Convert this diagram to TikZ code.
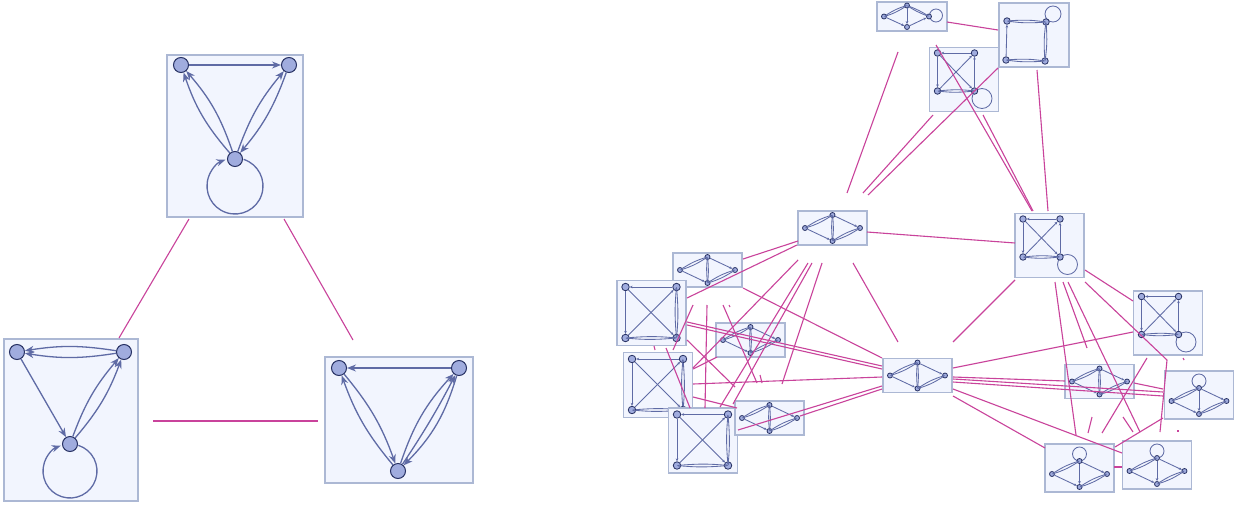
\documentclass[tikz,border=0pt]{standalone}
\usetikzlibrary{arrows.meta}
\definecolor{pinkc}{RGB}{201,67,155}
\definecolor{boxfill}{RGB}{242,245,254}
\definecolor{boxdraw}{RGB}{172,184,212}
\definecolor{nodefill}{RGB}{160,172,222}
\definecolor{nodedraw}{RGB}{40,50,100}
\definecolor{edgec}{RGB}{95,107,165}
\tikzset{
 gbox/.style={fill=boxfill,draw=boxdraw,line width=1.4pt},
 bignode/.style={circle,fill=nodefill,draw=nodedraw,line width=1pt,minimum size=15pt,inner sep=0pt},
 bigedge/.style={draw=edgec,line width=1.3pt,-{Stealth[length=9pt,width=7pt]}},
 bigloop/.style={draw=edgec,line width=1.3pt,-{Stealth[length=9pt,width=7pt]}},
 smnode/.style={circle,fill=nodefill,draw=nodedraw,line width=0.8pt,minimum size=#1,inner sep=0pt},
 smnode/.default=5pt,
 smedge/.style={draw=edgec,line width=0.85pt,-{Stealth[length=3pt,width=2.6pt]}},
 smloop/.style={draw=edgec,line width=0.85pt},
 link/.style={draw=pinkc,line width=1.1pt},
 diam/.pic={
  \path[gbox] (-34.5,-17) rectangle (34.5,17);
  \node[smnode=5pt] (-L) at (-27.5,0) {};
  \node[smnode=5pt] (-T) at (0,-13) {};
  \node[smnode=5pt] (-B) at (0,13) {};
  \node[smnode=5pt] (-R) at (27.5,0) {};
  \draw[smedge] (-L) to[bend left=8] (-T);
  \draw[smedge] (-T) to[bend left=8] (-L);
  \draw[smedge] (-L) -- (-B);
  \draw[smedge] (-T) to[bend left=6] (-B);
  \draw[smedge] (-B) to[bend left=6] (-T);
  \draw[smedge] (-T) -- (-R);
  \draw[smedge] (-B) to[bend left=8] (-R);
  \draw[smedge] (-R) to[bend left=8] (-B);
 },
 diamloop/.pic={
  \path[gbox] (-34.5,-24) rectangle (34.5,24);
  \draw[smloop] (0,-14) circle[radius=7];
  \node[smnode=5pt] (-L) at (-27.5,6) {};
  \node[smnode=5pt] (-T) at (0,-7) {};
  \node[smnode=5pt] (-B) at (0,19) {};
  \node[smnode=5pt] (-R) at (27.5,6) {};
  \draw[smedge] (-L) to[bend left=8] (-T);
  \draw[smedge] (-T) to[bend left=8] (-L);
  \draw[smedge] (-L) -- (-B);
  \draw[smedge] (-T) -- (-B);
  \draw[smedge] (-T) -- (-R);
  \draw[smedge] (-B) to[bend left=8] (-R);
  \draw[smedge] (-R) to[bend left=8] (-B);
 },
 sqx/.pic={
  \path[gbox] (-34.5,-32) rectangle (34.5,32);
  \draw[smloop] (18,19) circle[radius=10];
  \node[smnode=6.5pt] (-TL) at (-26.5,-26.5) {};
  \node[smnode=6.5pt] (-TR) at (10.5,-26.5) {};
  \node[smnode=6.5pt] (-BL) at (-26.5,11.5) {};
  \node[smnode=6.5pt] (-BR) at (10.5,11.5) {};
  \draw[smedge] (-TR) -- (-TL);
  \draw[smedge] (-TL) -- (-BL);
  \draw[smedge] (-BR) -- (-TR);
  \draw[smedge] (-BL) to[bend left=6] (-BR);
  \draw[smedge] (-BR) to[bend left=6] (-BL);
  \draw[smedge] (-TL) -- (-BR);
  \draw[smedge] (-BL) -- (-TR);
 },
 sqxn/.pic={
  \path[gbox] (-34.5,-32.5) rectangle (34.5,32.5);
  \node[smnode=7.5pt] (-TL) at (-26,-26) {};
  \node[smnode=7.5pt] (-TR) at (25,-26) {};
  \node[smnode=7.5pt] (-BL) at (-26,25) {};
  \node[smnode=7.5pt] (-BR) at (25,25) {};
  \draw[smedge] (-TR) -- (-TL);
  \draw[smedge] (-TL) -- (-BL);
  \draw[smedge] (-TR) to[bend left=5] (-BR);
  \draw[smedge] (-BR) to[bend left=5] (-TR);
  \draw[smedge] (-BL) to[bend left=5] (-BR);
  \draw[smedge] (-BR) to[bend left=5] (-BL);
  \draw[smedge] (-TL) -- (-BR);
  \draw[smedge] (-BL) -- (-TR);
 },
 sqloop/.pic={
  \path[gbox] (-35,-32) rectangle (35,32);
  \draw[smloop] (19,-21) circle[radius=8];
  \node[smnode=6.5pt] (-TL) at (-27,-14) {};
  \node[smnode=6.5pt] (-TR) at (12,-13) {};
  \node[smnode=6.5pt] (-BL) at (-28,25) {};
  \node[smnode=6.5pt] (-BR) at (11,26) {};
  \draw[smedge] (-TL) to[bend left=6] (-TR);
  \draw[smedge] (-TR) to[bend left=6] (-TL);
  \draw[smedge] (-BL) -- (-TL);
  \draw[smedge] (-TR) to[bend left=6] (-BR);
  \draw[smedge] (-BR) to[bend left=6] (-TR);
  \draw[smedge] (-BL) to[bend left=6] (-BR);
  \draw[smedge] (-BR) to[bend left=6] (-BL);
 },
 diamr/.pic={
  \path[gbox] (-35,-14.5) rectangle (35,14.5);
  \draw[smloop] (24,-1) circle[radius=6.5];
  \node[smnode=5pt] (-L) at (-28,0) {};
  \node[smnode=5pt] (-T) at (-5,-11) {};
  \node[smnode=5pt] (-B) at (-5,10.5) {};
  \node[smnode=5pt] (-R) at (17,0) {};
  \draw[smedge] (-L) to[bend left=8] (-T);
  \draw[smedge] (-T) to[bend left=8] (-L);
  \draw[smedge] (-L) -- (-B);
  \draw[smedge] (-T) -- (-B);
  \draw[smedge] (-T) to[bend left=6] (-R);
  \draw[smedge] (-R) to[bend left=6] (-T);
  \draw[smedge] (-B) -- (-R);
 },
}
\begin{document}
\begin{tikzpicture}[x=1pt,y=-1pt]
\useasboundingbox (0,0) rectangle (1236,506);
\fill[white] (0,0) rectangle (1236,506);

% ---------- left: three big boxes ----------
\path[gbox,line width=1.5pt] (167,55) rectangle (303,217);
\draw[bigloop] (235,186) ++(-72:28) arc[start angle=-72, end angle=250, radius=28];
\node[bignode] (A) at (181,65) {};
\node[bignode] (B) at (289,65) {};
\node[bignode] (C) at (235,159) {};
\draw[bigedge] (A) -- (B);
\draw[bigedge] (C) to[bend left=11] (A);
\draw[bigedge] (C) to[bend right=11] (A);
\draw[bigedge] (C) to[bend left=10] (B);
\draw[bigedge] (B) to[bend left=10] (C);

\path[gbox,line width=1.5pt] (4,339) rectangle (138,501);
\draw[bigloop] (70,471) ++(-72:27) arc[start angle=-72, end angle=250, radius=27];
\node[bignode] (D) at (17,352) {};
\node[bignode] (E) at (124,352) {};
\node[bignode] (F) at (70,444) {};
\draw[bigedge] (E) to[bend left=9] (D);
\draw[bigedge] (E) to[bend right=9] (D);
\draw[bigedge] (D) -- (F);
\draw[bigedge] (F) to[bend left=10] (E);
\draw[bigedge] (F) to[bend right=10] (E);

\path[gbox,line width=1.5pt] (325,357) rectangle (473,483);
\node[bignode] (G) at (339,368) {};
\node[bignode] (H) at (459,368) {};
\node[bignode] (I) at (398,471) {};
\draw[bigedge] (H) -- (G);
\draw[bigedge] (I) to[bend left=10] (G);
\draw[bigedge] (G) to[bend left=10] (I);
\draw[bigedge] (I) to[bend left=12] (H);
\draw[bigedge] (I) to[bend right=3] (H);
\draw[bigedge] (H) to[bend left=14] (I);

\draw[link] (189,219) -- (119,338);
\draw[link] (284,219) -- (353,340);
\draw[link] (153,421) -- (318,421);

% ---------- right: small boxes ----------
\pic (r1) at (912,16.5) {diamr};
\pic (r2) at (1034,35) {sqloop};
\pic (r3) at (964,79.5) {sqx};
\pic (r4) at (832.5,228) {diam};
\pic (r5) at (1049.5,245.5) {sqx};
\pic (r6) at (707.5,270) {diam};
\pic (r7) at (651.5,313) {sqxn};
\pic (r8) at (750.5,340) {diam};
\pic (r9) at (658,385) {sqxn};
\pic (r10) at (703,440.5) {sqxn};
\pic (r11) at (769.5,418) {diam};
\pic (r12) at (917.5,375.5) {diam};
\pic (r13) at (1099.5,381.5) {diam};
\pic (r14) at (1199,395) {diamloop};
\pic (r15) at (1079.5,468) {diamloop};
\pic (r16) at (1157,465) {diamloop};
\pic (r17) at (1168,323) {sqx};

% ---------- right: links ----------
\draw[link] (947,22) -- (998,30);
\draw[link] (898,52) -- (847,193);
\draw[link] (936,45) -- (1032,211);
\draw[link] (983,115) -- (1033,211);
\draw[link] (933,115) -- (863,193);
\draw[link] (998,68) -- (868,195);
\draw[link] (1037,70) -- (1048,211);
\draw[link] (867,232) -- (1015,243);
\draw[link] (798,241) -- (743,259);
\draw[link] (797,245) -- (687,298);
\draw[link] (798,260) -- (693,368);
\draw[link] (808,263) -- (720,407);
\draw[link] (812,263) -- (733,404);
\draw[link] (822,263) -- (782,384);
\draw[link] (853,263) -- (898,342);
\draw[link] (743,288) -- (882,358);
\draw[link] (687,322) -- (882,366);
\draw[link] (687,325) -- (882,369);
\draw[link] (693,384) -- (882,377);
\draw[link] (738,430) -- (882,386);
\draw[link] (800,416) -- (882,389);
\draw[link] (693,305) -- (673,350);
\draw[link] (707,305) -- (705,408);
\draw[link] (723,305) -- (757,383);
\draw[link] (666,348) -- (690,408);
\draw[link] (687,340) -- (735,387);
\draw[link] (693,369) -- (717,357);
\draw[link] (693,397) -- (737,408);
\draw[link] (1015,280) -- (953,342);
\draw[link] (1085,270) -- (1133,301);
\draw[link] (1055,282) -- (1076,435);
\draw[link] (1063,282) -- (1087,348);
\draw[link] (1068,282) -- (1140,432);
\draw[link] (1085,282) -- (1167,360);
\draw[link] (953,368) -- (1133,332);
\draw[link] (953,377) -- (1065,381);
\draw[link] (953,379) -- (1163,392);
\draw[link] (953,382) -- (1163,396);
\draw[link] (953,389) -- (1122,453);
\draw[link] (953,396) -- (1045,448);
\draw[link] (1115,447) -- (1163,418);
\draw[link] (1147,358) -- (1102,433);
\draw[link] (1167,360) -- (1160,432);
\draw[link] (1092,417) -- (1088,433);
\draw[link] (1123,417) -- (1133,432);
\draw[link] (1134,383) -- (1163,389);
\draw[link] (1114,467) -- (1122,467);
% small ticks
\draw[link] (729,305) -- (730,307);
\draw[link] (654,346) -- (655,350);
\draw[link] (760,375) -- (762,383);
\draw[link] (1183,358) -- (1184,360);
\draw[link] (1178,430) -- (1178,432);
\end{tikzpicture}
\end{document}
